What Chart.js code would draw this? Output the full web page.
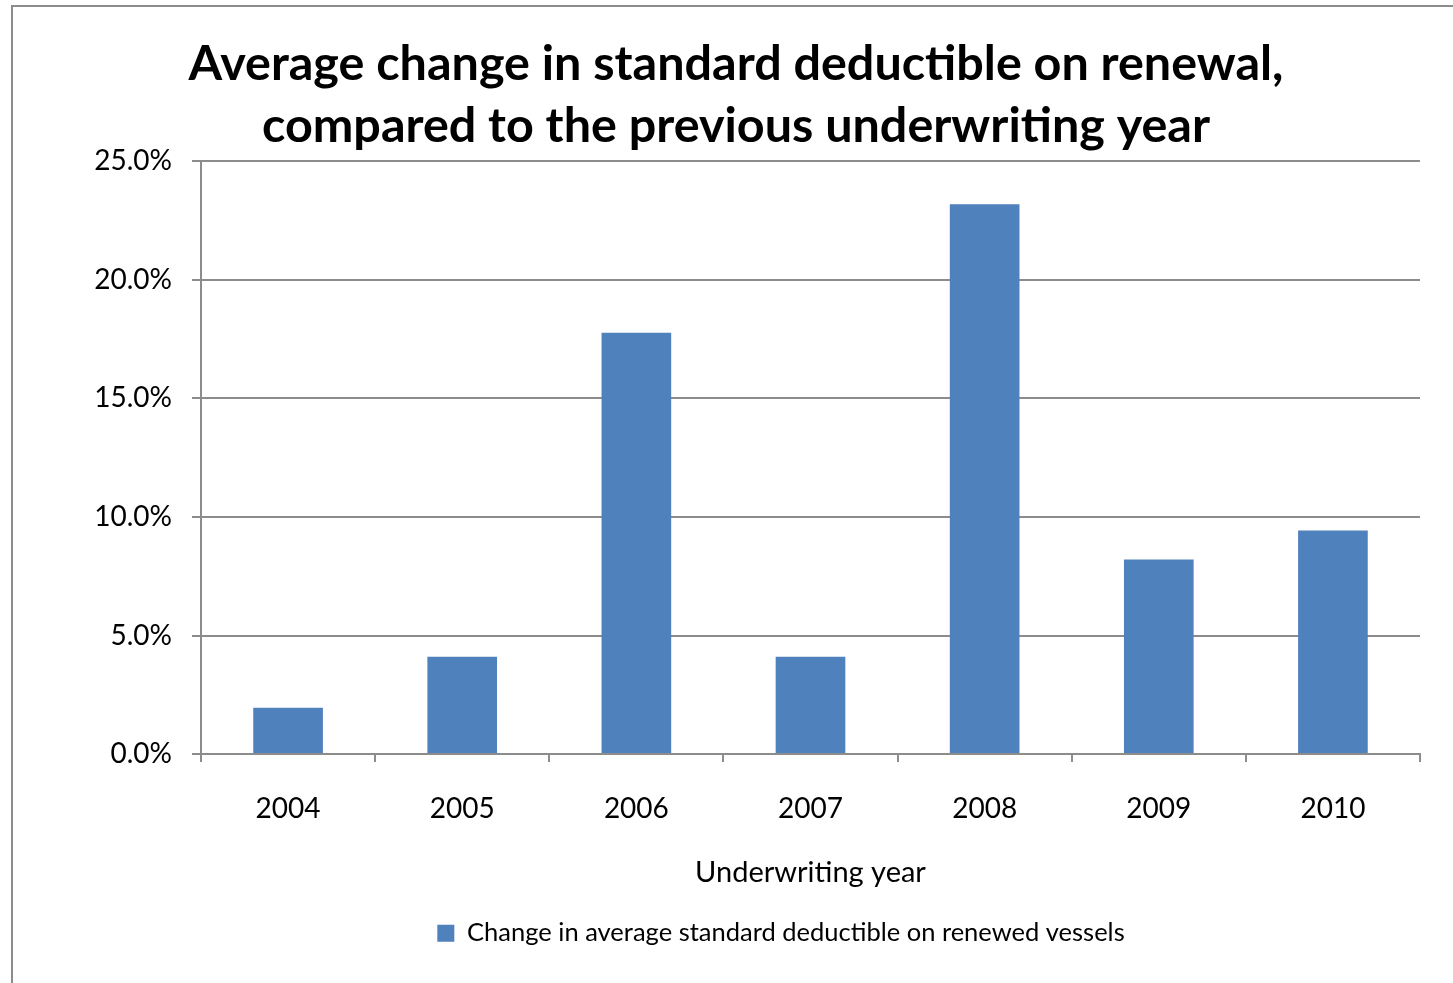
<!DOCTYPE html>
<html lang="en">
  <head>
    <meta charset="UTF-8" />
    <title>Average change in standard deductible</title>
    <script src="https://cdn.jsdelivr.net/npm/chart.js"></script>
    <style>
      body {
        margin: 0;
        background: #ffffff;
        font-family: "Lato", sans-serif;
      }
      .frame {
        position: absolute;
        left: 11px;
        top: 5px;
        width: 1450px;
        height: 990px;
        border-left: 2px solid #8c8c8c;
        border-top: 2px solid #8c8c8c;
        pointer-events: none;
      }
      #chart {
        position: absolute;
        left: 0;
        top: 0;
      }
    </style>
  </head>
  <body>
    <canvas id="chart" width="1453" height="983"></canvas>
    <div class="frame"></div>

    <script>
      // data
      var years = ["2004", "2005", "2006", "2007", "2008", "2009", "2010"];
      var deductibleChange = [0.0195, 0.041, 0.1777, 0.041, 0.2318, 0.082, 0.0943];
      var yTicks = [0, 0.05, 0.1, 0.15, 0.2, 0.25];

      var seriesName = "Change in average standard deductible on renewed vessels";
      var titleLines = [
        "Average change in standard deductible on renewal,",
        "compared to the previous underwriting year",
      ];
      var gridColor = "#8c8c8c";

      // nudges the legend right, Excel puts it a bit off centre
      var legendShift = {
        id: "legendShift",
        afterLayout: function (chart) {
          chart.legend.left += 45;
          chart.legend.right += 45;
        },
      };

      new Chart(document.getElementById("chart").getContext("2d"), {
        type: "bar",
        data: {
          labels: years,
          datasets: [
            {
              label: seriesName,
              data: deductibleChange,
              backgroundColor: "#4f81bd",
              borderWidth: 0,
              categoryPercentage: 1,
              barPercentage: 0.4,
            },
          ],
        },
        options: {
          responsive: false,
          animation: false,
          layout: {
            padding: { left: 52, right: 33, top: 0, bottom: 27 },
          },
          plugins: {
            title: {
              display: true,
              text: titleLines,
              color: "#000000",
              font: { family: "Lato", size: 48.5, weight: "bold", lineHeight: 1.28 },
              padding: { top: 33, bottom: 4 },
            },
            legend: {
              position: "bottom",
              labels: {
                color: "#000000",
                boxWidth: 17,
                boxHeight: 17,
                font: { family: "Lato", size: 25.5 },
                padding: 30,
              },
            },
            tooltip: { enabled: false },
          },
          scales: {
            x: {
              grid: {
                drawOnChartArea: false,
                drawTicks: true,
                tickLength: 8,
                color: gridColor,
                lineWidth: 2,
              },
              border: { color: gridColor, width: 2 },
              ticks: {
                color: "#000000",
                font: { family: "Lato", size: 28 },
                padding: 30,
              },
              title: {
                display: true,
                text: "Underwriting year",
                color: "#000000",
                font: { family: "Lato", size: 29 },
                padding: { top: 0, bottom: 0 },
              },
            },
            y: {
              min: 0,
              max: 0.25,
              afterFit: function (scale) {
                scale.width = 149;
              },
              afterBuildTicks: function (scale) {
                scale.ticks = yTicks.map(function (v) {
                  return { value: v };
                });
              },
              grid: {
                color: gridColor,
                lineWidth: 2,
                tickLength: 9,
              },
              border: { color: gridColor, width: 2 },
              ticks: {
                color: "#000000",
                font: { family: "Lato", size: 28 },
                padding: 20,
                callback: function (v) {
                  return (v * 100).toFixed(1) + "%";
                },
              },
            },
          },
        },
        plugins: [legendShift],
      });
    </script>
  </body>
</html>
